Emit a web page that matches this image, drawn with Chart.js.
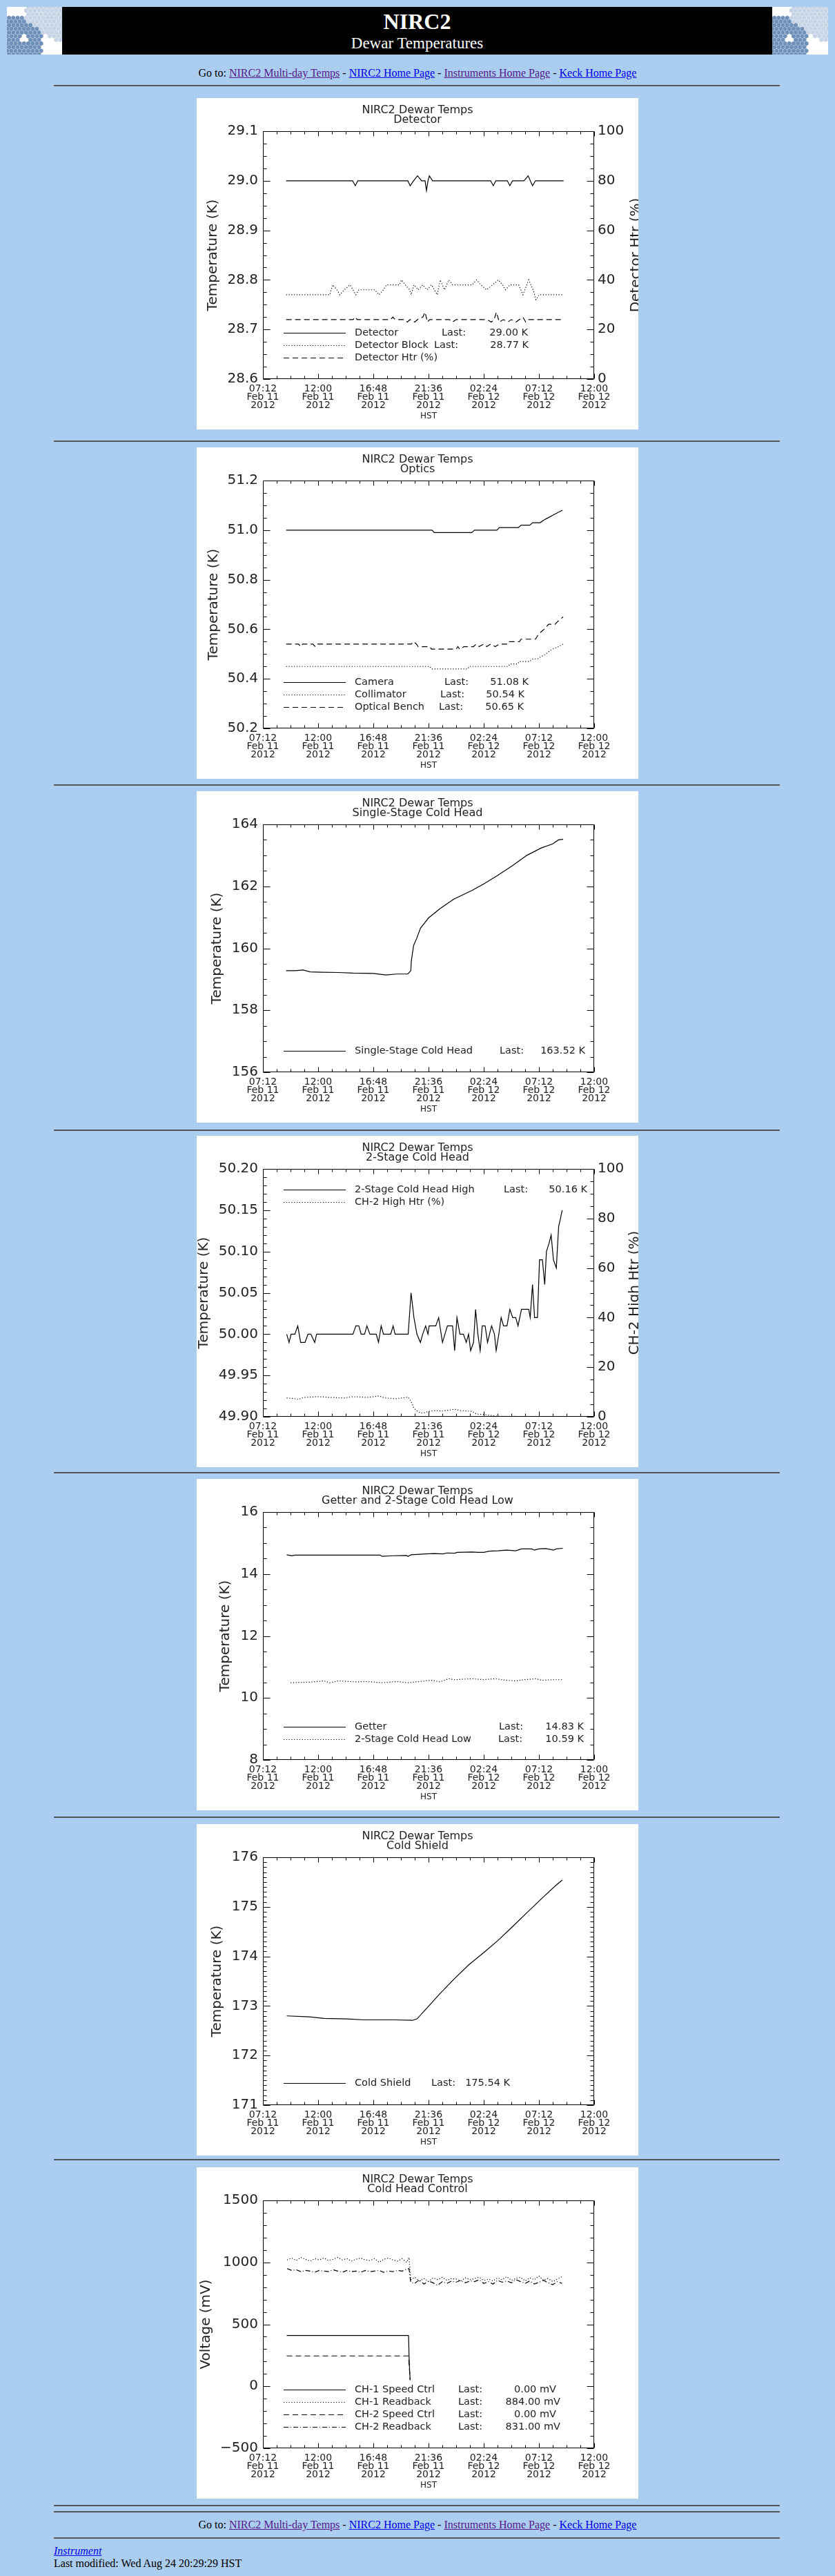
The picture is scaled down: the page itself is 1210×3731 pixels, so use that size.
<!DOCTYPE html>
<html>
<head>
<meta charset="utf-8">
<title>NIRC2 Dewar Temperatures</title>
<script src="https://cdn.jsdelivr.net/npm/chart.js@4.4.1/dist/chart.umd.min.js"></script>
<style>
  html, body { margin: 0; padding: 0; }
  body {
    background: #abcdef;
    width: 1210px;
    height: 3731px;
    position: relative;
    overflow: hidden;
    font-family: "Liberation Serif", "Times New Roman", serif;
    color: #000;
  }
  .abs { position: absolute; }
  .hr { position: absolute; left: 78px; width: 1052px; height: 2px; background: #555; }
  .goto { position: absolute; left: 0; width: 1210px; text-align: center; font-size: 16px; line-height: 18px; white-space: nowrap; }
  a { color: #0000ee; }
  a.seen { color: #551a8b; }
  .panel { position: absolute; left: 285px; width: 640px; height: 480px; background: #fff; }
  .panel canvas { display: block; }
</style>
</head>
<body>

<canvas id="logoL" class="abs" style="left:10px;top:10px" width="80" height="69"></canvas>
<div class="abs" style="left:90px;top:10px;width:1029px;height:69px;background:#000"></div>
<canvas id="logoR" class="abs" style="left:1119px;top:10px" width="81" height="69"></canvas>
<div class="abs" style="left:90px;top:15px;width:1029px;text-align:center;color:#fff;font-size:32px;line-height:32px;font-weight:bold">NIRC2</div>
<div class="abs" style="left:90px;top:51px;width:1029px;text-align:center;color:#fff;font-size:23px;line-height:23px">Dewar Temperatures</div>

<div class="goto" style="top:97px">Go to: <a class="seen" href="#">NIRC2 Multi-day Temps</a> - <a href="#">NIRC2 Home Page</a> - <a class="seen" href="#">Instruments Home Page</a> - <a href="#">Keck Home Page</a></div>
<div class="hr" style="top:123px"></div>

<div class="panel" style="top:142px"><canvas id="c1" width="640" height="480"></canvas></div>
<div class="hr" style="top:638px"></div>
<div class="panel" style="top:648px"><canvas id="c2" width="640" height="480"></canvas></div>
<div class="hr" style="top:1136px"></div>
<div class="panel" style="top:1146px"><canvas id="c3" width="640" height="480"></canvas></div>
<div class="hr" style="top:1636px"></div>
<div class="panel" style="top:1645px"><canvas id="c4" width="640" height="480"></canvas></div>
<div class="hr" style="top:2132px"></div>
<div class="panel" style="top:2142px"><canvas id="c5" width="640" height="480"></canvas></div>
<div class="hr" style="top:2631px"></div>
<div class="panel" style="top:2642px"><canvas id="c6" width="640" height="480"></canvas></div>
<div class="hr" style="top:3127px"></div>
<div class="panel" style="top:3139px"><canvas id="c7" width="640" height="480"></canvas></div>
<div class="hr" style="top:3628px"></div>
<div class="hr" style="top:3637px"></div>

<div class="goto" style="top:3648px">Go to: <a class="seen" href="#">NIRC2 Multi-day Temps</a> - <a href="#">NIRC2 Home Page</a> - <a class="seen" href="#">Instruments Home Page</a> - <a href="#">Keck Home Page</a></div>
<div class="hr" style="top:3675px"></div>
<div class="abs" style="left:78px;top:3686px;font-size:16px;line-height:18px"><a href="#"><i>Instrument</i></a></div>
<div class="abs" style="left:78px;top:3704px;font-size:16px;line-height:18px;white-space:nowrap">Last modified: Wed Aug 24 20:29:29 HST</div>

<script>
// time axis: hours after 07:12 Feb 11 2012 (HST)
const timeTickValues = [0, 4.8, 9.6, 14.4, 19.2, 24, 28.8];
const timeTickLabels = [
  ["07:12", "Feb 11", "2012"],
  ["12:00", "Feb 11", "2012"],
  ["16:48", "Feb 11", "2012"],
  ["21:36", "Feb 11", "2012"],
  ["02:24", "Feb 12", "2012"],
  ["07:12", "Feb 12", "2012"],
  ["12:00", "Feb 12", "2012"]
];

// --- Detector
const detTicks = [28.6, 28.7, 28.8, 28.9, 29.0, 29.1];
const detTickLabels = ["28.6", "28.7", "28.8", "28.9", "29.0", "29.1"];
const htrTicks = [0, 20, 40, 60, 80, 100];
const htrTickLabels = ["0", "20", "40", "60", "80", "100"];
const detT = [2.02, 7.8, 8.03, 8.25, 12.6, 12.8, 13.1, 13.44, 13.8, 14.1, 14.22, 14.35, 14.47, 14.75, 19.8, 20.03, 20.25, 21.25, 21.47, 21.7, 22.7, 23.06, 23.44, 23.7, 26.14];
const detV = [29.00, 29.00, 28.99, 29.00, 29.00, 28.99, 29.00, 29.01, 29.00, 29.00, 28.98, 29.00, 29.01, 29.00, 29.00, 28.99, 29.00, 29.00, 28.99, 29.00, 29.00, 29.01, 28.99, 29.00, 29.00];
const blkT = [2.02, 5.81, 6.06, 6.44, 6.69, 7.07, 7.58, 7.83, 8.08, 8.34, 9.72, 10.1, 10.48, 10.74, 11.87, 12.05, 12.38, 12.76, 12.88, 13.13, 13.51, 13.89, 14.27, 14.65, 15.16, 15.41, 15.79, 16.17, 16.5, 18.19, 18.57, 18.95, 19.45, 19.96, 20.46, 20.84, 21.09, 21.47, 22.23, 22.61, 23.11, 23.49, 23.74, 24.0, 26.14];
const blkV = [28.77, 28.77, 28.79, 28.78, 28.77, 28.78, 28.79, 28.78, 28.77, 28.78, 28.78, 28.77, 28.78, 28.79, 28.79, 28.80, 28.79, 28.78, 28.77, 28.79, 28.78, 28.79, 28.78, 28.79, 28.77, 28.80, 28.78, 28.80, 28.79, 28.79, 28.80, 28.79, 28.78, 28.79, 28.80, 28.79, 28.78, 28.79, 28.79, 28.77, 28.80, 28.78, 28.76, 28.77, 28.77];
const htrT = [2.02, 7.85, 8.03, 8.2, 11.1, 11.3, 11.5, 12.3, 12.55, 12.8, 13.2, 13.45, 13.9, 14.1, 14.3, 14.5, 16.2, 16.5, 16.8, 19.5, 19.85, 20.1, 20.3, 20.55, 20.9, 21.3, 21.6, 22.0, 22.3, 22.6, 22.85, 23.1, 26.14];
const htrV = [24, 24, 25, 24, 24, 25, 24, 24, 23, 24, 23, 24, 25, 27, 23, 24, 24, 23, 24, 24, 23, 24, 27, 23, 24, 23, 24, 23, 24, 25, 23, 24, 24];
const detLast = ["29.00 K", "28.77 K", null];

// --- Optics
const optTicks = [50.2, 50.4, 50.6, 50.8, 51.0, 51.2];
const optTickLabels = ["50.2", "50.4", "50.6", "50.8", "51.0", "51.2"];
const camT = [2.02, 14.7, 14.9, 18.15, 18.4, 20.35, 20.55, 22.2, 22.45, 23.2, 23.45, 24.1, 24.4, 24.8, 25.2, 25.6, 26.05];
const camV = [51.00, 51.00, 50.99, 50.99, 51.00, 51.00, 51.01, 51.01, 51.02, 51.02, 51.03, 51.03, 51.04, 51.05, 51.06, 51.07, 51.08];
const colT = [2.02, 14.5, 14.7, 17.8, 17.95, 21.3, 21.5, 22.15, 22.3, 23.2, 23.45, 23.85, 24.2, 24.6, 24.85, 25.2, 25.7, 26.1];
const colV = [50.45, 50.45, 50.44, 50.44, 50.45, 50.45, 50.46, 50.46, 50.47, 50.47, 50.48, 50.48, 50.49, 50.50, 50.51, 50.52, 50.53, 50.54];
const benchT = [2.02, 3.1, 3.28, 3.45, 4.35, 4.54, 4.75, 12.9, 13.1, 13.35, 13.5, 14.5, 14.65, 16.8, 16.95, 17.1, 17.5, 18.3, 18.55, 18.8, 19.2, 19.45, 19.8, 20.2, 20.55, 21.3, 21.4, 22.3, 22.45, 23.7, 23.96, 24.2, 24.46, 24.84, 25.4, 25.6, 26.1];
const benchV = [50.54, 50.54, 50.53, 50.54, 50.54, 50.53, 50.54, 50.54, 50.55, 50.54, 50.53, 50.53, 50.52, 50.52, 50.53, 50.52, 50.53, 50.53, 50.54, 50.53, 50.54, 50.53, 50.54, 50.53, 50.54, 50.54, 50.55, 50.55, 50.56, 50.56, 50.58, 50.59, 50.60, 50.62, 50.62, 50.63, 50.65];
const optLast = ["51.08 K", "50.54 K", "50.65 K"];

// --- Single-stage cold head
const ssTicks = [156, 158, 160, 162, 164];
const ssTickLabels = ["156", "158", "160", "162", "164"];
const ssT = [2.02, 2.8, 3.5, 4.1, 5.04, 6.56, 7.82, 9.58, 10.7, 11.6, 12.6, 12.86, 12.9, 13.1, 13.37, 13.7, 14.4, 15.4, 16.6, 18.2, 19.2, 20.4, 21.7, 22.95, 24.2, 25.2, 25.7, 26.1];
const ssV = [159.28, 159.28, 159.30, 159.24, 159.23, 159.22, 159.20, 159.19, 159.14, 159.17, 159.17, 159.28, 159.58, 160.09, 160.32, 160.65, 160.98, 161.28, 161.59, 161.87, 162.08, 162.35, 162.67, 163.00, 163.24, 163.37, 163.50, 163.52];
const ssLast = ["163.52 K"];

// --- 2-stage cold head
const ch2Ticks = [49.90, 49.95, 50.00, 50.05, 50.10, 50.15, 50.20];
const ch2TickLabels = ["49.90", "49.95", "50.00", "50.05", "50.10", "50.15", "50.20"];
const ch2T = [2.07, 2.27, 2.45, 2.78, 3.03, 3.28, 3.66, 3.92, 4.17, 4.5, 4.67, 7.83, 8.08, 8.34, 8.54, 8.84, 9.04, 9.3, 9.85, 10.05, 10.28, 10.48, 11.11, 11.32, 11.49, 12.63, 12.88, 13.13, 13.39, 13.69, 13.89, 14.15, 14.35, 14.45, 15.03, 15.28, 15.61, 16.04, 16.49, 16.67, 16.87, 17.13, 17.43, 17.68, 17.88, 18.06, 18.31, 18.49, 18.69, 18.89, 19.07, 19.32, 19.53, 19.88, 20.13, 20.28, 20.51, 20.71, 20.92, 21.22, 21.47, 21.72, 21.98, 22.18, 22.48, 23.11, 23.24, 23.44, 23.62, 23.87, 24.05, 24.3, 24.5, 24.65, 24.88, 25.06, 25.26, 25.51, 25.71, 25.87, 26.02];
const ch2V = [50.00, 49.99, 50.00, 50.00, 50.01, 49.99, 49.99, 50.00, 50.00, 49.99, 50.00, 50.00, 50.01, 50.01, 50.00, 50.00, 50.01, 50.00, 50.00, 49.99, 50.01, 50.00, 50.00, 50.01, 50.00, 50.00, 50.05, 50.02, 50.00, 49.99, 50.00, 50.01, 50.00, 50.01, 50.01, 50.02, 49.99, 50.01, 50.01, 49.98, 50.02, 50.00, 50.00, 49.99, 50.00, 49.98, 49.99, 50.03, 50.00, 49.98, 50.01, 50.01, 49.99, 50.01, 50.00, 49.98, 50.00, 50.02, 50.01, 50.01, 50.03, 50.02, 50.02, 50.01, 50.03, 50.03, 50.02, 50.06, 50.02, 50.02, 50.09, 50.09, 50.06, 50.10, 50.11, 50.12, 50.09, 50.08, 50.13, 50.14, 50.15];
const ch2HtrT = [2.07, 2.65, 3.08, 3.53, 4.8, 5.8, 7.07, 7.83, 9.1, 10.1, 10.6, 11.6, 12.63, 12.88, 13.13, 13.5, 13.9, 14.27, 14.9, 15.66, 16.67, 17.17, 18.18, 18.56, 19.2, 20.4, 26.1];
const ch2HtrV = [7.6, 7.4, 7.0, 7.8, 8.1, 7.8, 7.6, 8.1, 7.8, 8.4, 7.6, 7.3, 7.9, 6.2, 3.4, 2.0, 1.4, 2.0, 2.5, 2.3, 3.0, 2.5, 2.2, 1.1, 0.9, 0.2, 0];
const ch2Last = ["50.16 K", null];

// --- Getter and 2-stage cold head low
const getTicks = [8, 10, 12, 14, 16];
const getTickLabels = ["8", "10", "12", "14", "16"];
const getT = [2.07, 2.5, 2.8, 10.2, 10.35, 11.35, 12.5, 12.6, 12.88, 14.15, 14.9, 15.66, 16.0, 16.67, 16.9, 18.18, 18.7, 19.2, 19.7, 20.43, 21.2, 21.98, 22.48, 23.36, 23.6, 23.99, 24.6, 25.26, 25.5, 26.07];
const getV = [14.62, 14.59, 14.61, 14.61, 14.57, 14.59, 14.60, 14.57, 14.62, 14.65, 14.66, 14.65, 14.68, 14.67, 14.70, 14.71, 14.70, 14.70, 14.74, 14.75, 14.77, 14.75, 14.81, 14.81, 14.77, 14.81, 14.82, 14.77, 14.81, 14.83];
const lowT = [2.4, 4.04, 5.3, 5.8, 6.56, 8.08, 9.08, 10.34, 11.6, 12.6, 13.6, 14.65, 15.4, 16.15, 16.65, 18.18, 19.2, 20.2, 21.2, 21.98, 22.7, 23.74, 24.24, 25.26, 26.0];
const lowV = [10.49, 10.51, 10.55, 10.49, 10.55, 10.52, 10.53, 10.49, 10.53, 10.49, 10.53, 10.57, 10.52, 10.62, 10.59, 10.62, 10.59, 10.62, 10.57, 10.55, 10.59, 10.62, 10.57, 10.59, 10.59];
const getLast = ["14.83 K", "10.59 K"];

// --- Cold shield
const shTicks = [171, 172, 173, 174, 175, 176];
const shTickLabels = ["171", "172", "173", "174", "175", "176"];
const shT = [2.07, 4.04, 5.3, 7.3, 8.8, 11.35, 13.0, 13.4, 14.15, 15.4, 16.65, 17.9, 19.17, 20.43, 21.7, 22.95, 24.2, 25.5, 26.03];
const shV = [172.80, 172.78, 172.75, 172.74, 172.72, 172.72, 172.71, 172.74, 172.93, 173.25, 173.55, 173.83, 174.07, 174.32, 174.60, 174.88, 175.16, 175.44, 175.54];
const shLast = ["175.54 K"];

// --- Cold head control
const ctlTicks = [-500, 0, 500, 1000, 1500];
const ctlTickLabels = ["\u2212500", "0", "500", "1000", "1500"];
const spd1T = [2.07, 12.66, 12.72, 12.8];
const spd1V = [410, 410, 200, 50];
const spd2T = [2.07, 12.66, 12.8];
const spd2V = [245, 245, 50];
const rbT = [2.1, 2.5, 2.9, 3.3, 3.7, 4.1, 4.5, 4.9, 5.3, 5.7, 6.1, 6.5, 6.9, 7.3, 7.7, 8.1, 8.5, 8.9, 9.3, 9.7, 10.1, 10.5, 10.9, 11.3, 11.7, 12.1, 12.5, 12.7, 12.85, 13.2, 13.6, 14.0, 14.4, 14.8, 15.2, 15.6, 16.0, 16.4, 16.8, 17.2, 17.6, 18.0, 18.4, 18.8, 19.2, 19.6, 20.0, 20.4, 20.8, 21.2, 21.6, 22.0, 22.4, 22.8, 23.2, 23.6, 24.0, 24.4, 24.8, 25.2, 25.6, 26.0];
const rb1V = [1020, 1035, 1015, 1040, 1025, 1010, 1030, 1020, 1035, 1015, 1025, 1040, 1020, 1030, 1010, 1025, 1035, 1020, 1015, 1030, 1000, 1025, 1035, 1020, 1010, 1030, 1000, 1040, 860, 880, 850, 870, 845, 875, 860, 880, 855, 870, 865, 850, 875, 860, 870, 880, 855, 865, 850, 875, 860, 885, 855, 870, 880, 850, 875, 860, 890, 855, 870, 845, 865, 884];
const rb2V = [950, 935, 940, 925, 935, 930, 920, 935, 930, 925, 940, 930, 920, 935, 925, 930, 920, 935, 925, 930, 935, 920, 930, 925, 935, 930, 945, 950, 840, 830, 860, 825, 850, 835, 815, 845, 830, 850, 840, 855, 835, 850, 845, 860, 830, 845, 825, 855, 840, 850, 835, 860, 845, 830, 850, 825, 840, 855, 835, 820, 845, 831];
const ctlLast = ["0.00 mV", "884.00 mV", "0.00 mV", "831.00 mV"];

const DASH = { solid: [], dot: [1.2, 2.6], dash: [8, 5], dashdot: [7, 3, 1, 3] };
const INK = "#222";
const FONT = "'DejaVu Sans', sans-serif";

Chart.defaults.font.family = FONT;
Chart.defaults.color = INK;
Chart.defaults.animation = false;

// IDL style box: ticks on all four sides, legend inside, right title
const idlFrame = {
  id: "idlFrame",
  afterDraw(chart, args, o) {
    const { ctx, chartArea: a, scales } = chart;
    const L = Math.round(a.left) + 0.5, R = Math.round(a.right) - 0.5;
    const T = Math.round(a.top) + 0.5, B = Math.round(a.bottom) - 0.5;
    ctx.save();
    ctx.strokeStyle = "#000";
    ctx.lineWidth = 1;
    ctx.setLineDash([]);
    ctx.beginPath();
    ctx.rect(L, T, R - L, B - T);

    const tickRun = (vals, minor, fn) => {
      for (let k = 0; k < vals.length; k++) {
        fn(vals[k], true);
        if (k < vals.length - 1) {
          for (let m = 1; m < minor; m++) fn(vals[k] + (vals[k + 1] - vals[k]) * m / minor, false);
        }
      }
    };
    tickRun(timeTickValues, 4, (v, major) => {
      const px = Math.round(scales.x.getPixelForValue(v)) + 0.5;
      const len = major ? 7 : 4;
      ctx.moveTo(px, B); ctx.lineTo(px, B - len);
      ctx.moveTo(px, T); ctx.lineTo(px, T + len);
    });
    tickRun(o.yTicks, o.yMinor, (v, major) => {
      const py = Math.round(scales.y.getPixelForValue(v)) + 0.5;
      ctx.moveTo(L, py); ctx.lineTo(L + (major ? 10 : 5), py);
      if (!o.y2Ticks) { ctx.moveTo(R, py); ctx.lineTo(R - (major ? 10 : 5), py); }
    });
    if (o.y2Ticks) {
      tickRun(o.y2Ticks, o.y2Minor, (v, major) => {
        const py = Math.round(scales.y2.getPixelForValue(v)) + 0.5;
        ctx.moveTo(R, py); ctx.lineTo(R - (major ? 10 : 5), py);
      });
    }
    ctx.stroke();

    // legend: sample line, name, "Last:" and the right-aligned last value
    ctx.font = "14.5px " + FONT;
    ctx.fillStyle = INK;
    ctx.textBaseline = "middle";
    o.rows.forEach((r, i) => {
      const ds = chart.data.datasets[i];
      ctx.setLineDash(ds.borderDash);
      ctx.lineWidth = ds.borderWidth;
      ctx.beginPath();
      ctx.moveTo(o.x1, r.y + 0.5);
      ctx.lineTo(o.x2, r.y + 0.5);
      ctx.stroke();
      ctx.textAlign = "left";
      ctx.fillText(ds.label, o.tx, r.y);
      if (o.last[i]) {
        ctx.fillText("Last:", r.lx, r.y);
        ctx.textAlign = "right";
        ctx.fillText(o.last[i], r.vx, r.y);
      }
    });

    if (o.rightTitle) {
      ctx.translate(o.rightTitleX, (a.top + a.bottom) / 2);
      ctx.rotate(-Math.PI / 2);
      ctx.textAlign = "center";
      ctx.font = "20px " + FONT;
      ctx.fillText(o.rightTitle, 0, 0);
    }
    ctx.restore();
  }
};

function valueAxis(position, min, max, ticks, labels, showLabels, width) {
  return {
    type: "linear",
    position: position,
    min: min,
    max: max,
    afterBuildTicks: (s) => { s.ticks = ticks.map((v) => ({ value: v })); },
    afterFit: (s) => { s.width = width; },
    grid: { display: false, drawTicks: false },
    border: { display: false },
    ticks: {
      display: showLabels,
      padding: position === "left" ? 7 : 5,
      font: { size: 20 },
      color: INK,
      callback: (v, i) => labels[i]
    }
  };
}

function idlChart(id, spec) {
  const datasets = spec.series.map((s) => ({
    label: s.label,
    data: s.t.map((t, i) => ({ x: t, y: s.v[i] })),
    yAxisID: s.axis || "y",
    borderColor: "#000",
    borderWidth: 1.2,
    borderDash: DASH[s.style],
    borderCapStyle: "butt",
    pointRadius: 0,
    tension: 0,
    fill: false
  }));

  const yLeft = valueAxis("left", spec.yMin, spec.yMax, spec.yTicks, spec.yLabels, true, 96);
  yLeft.title = {
    display: true,
    text: spec.yTitle,
    color: INK,
    font: { size: 20, lineHeight: "20px" },
    padding: { top: spec.yTitleX - 10, bottom: 0 }
  };
  const y2 = spec.y2
    ? valueAxis("right", spec.y2.min, spec.y2.max, spec.y2.ticks, spec.y2.labels, true, 64)
    : valueAxis("right", spec.yMin, spec.yMax, spec.yTicks, spec.yLabels, false, 64);

  return new Chart(document.getElementById(id), {
    type: "line",
    data: { datasets: datasets },
    options: {
      responsive: false,
      maintainAspectRatio: false,
      layout: { padding: 0 },
      scales: {
        x: {
          type: "linear",
          position: "bottom",
          min: 0,
          max: 28.8,
          afterBuildTicks: (s) => { s.ticks = timeTickValues.map((v) => ({ value: v })); },
          afterFit: (s) => { s.height = 73; },
          grid: { display: false, drawTicks: false },
          border: { display: false },
          ticks: {
            autoSkip: false,
            maxRotation: 0,
            padding: 9,
            color: INK,
            font: { size: 14, lineHeight: "11.7px" },
            callback: (v, i) => timeTickLabels[i]
          },
          title: {
            display: true,
            text: "HST",
            color: INK,
            font: { size: 12, lineHeight: "14px" },
            padding: { top: 0, bottom: 12 }
          }
        },
        y: yLeft,
        y2: y2
      },
      plugins: {
        legend: { display: false },
        tooltip: { enabled: false },
        title: {
          display: true,
          text: ["NIRC2 Dewar Temps", spec.subtitle],
          color: INK,
          font: { size: 16, weight: "normal", lineHeight: "14px" },
          padding: { top: 11, bottom: 9 }
        },
        idlFrame: {
          yTicks: spec.yTicks,
          yMinor: spec.yMinor,
          y2Ticks: spec.y2 ? spec.y2.ticks : null,
          y2Minor: spec.y2 ? spec.y2.minor : 0,
          x1: 126, x2: 216, tx: 229,
          rows: spec.legendRows,
          last: spec.last,
          rightTitle: spec.y2 ? spec.y2.title : null,
          rightTitleX: spec.y2 ? spec.y2.titleX : 0
        }
      }
    },
    plugins: [idlFrame]
  });
}

idlChart("c1", {
  subtitle: "Detector",
  yTitle: "Temperature (K)", yTitleX: 24,
  yMin: 28.6, yMax: 29.1, yTicks: detTicks, yLabels: detTickLabels, yMinor: 4,
  y2: { min: 0, max: 100, ticks: htrTicks, labels: htrTickLabels, minor: 4, title: "Detector Htr (%)", titleX: 637 },
  series: [
    { label: "Detector", t: detT, v: detV, style: "solid" },
    { label: "Detector Block", t: blkT, v: blkV, style: "dot" },
    { label: "Detector Htr (%)", t: htrT, v: htrV, style: "dash", axis: "y2" }
  ],
  last: detLast,
  legendRows: [{ y: 340, lx: 355, vx: 480 }, { y: 358, lx: 344, vx: 481 }, { y: 376 }]
});

idlChart("c2", {
  subtitle: "Optics",
  yTitle: "Temperature (K)", yTitleX: 24.5,
  yMin: 50.2, yMax: 51.2, yTicks: optTicks, yLabels: optTickLabels, yMinor: 4,
  series: [
    { label: "Camera", t: camT, v: camV, style: "solid" },
    { label: "Collimator", t: colT, v: colV, style: "dot" },
    { label: "Optical Bench", t: benchT, v: benchV, style: "dash" }
  ],
  last: optLast,
  legendRows: [{ y: 340, lx: 359, vx: 481 }, { y: 358, lx: 353, vx: 475 }, { y: 376, lx: 351, vx: 474 }]
});

idlChart("c3", {
  subtitle: "Single-Stage Cold Head",
  yTitle: "Temperature (K)", yTitleX: 29.7,
  yMin: 156, yMax: 164, yTicks: ssTicks, yLabels: ssTickLabels, yMinor: 4,
  series: [
    { label: "Single-Stage Cold Head", t: ssT, v: ssV, style: "solid" }
  ],
  last: ssLast,
  legendRows: [{ y: 376, lx: 439, vx: 563 }]
});

idlChart("c4", {
  subtitle: "2-Stage Cold Head",
  yTitle: "Temperature (K)", yTitleX: 11,
  yMin: 49.9, yMax: 50.2, yTicks: ch2Ticks, yLabels: ch2TickLabels, yMinor: 5,
  y2: { min: 0, max: 100, ticks: htrTicks, labels: htrTickLabels, minor: 4, title: "CH-2 High Htr (%)", titleX: 635 },
  series: [
    { label: "2-Stage Cold Head High", t: ch2T, v: ch2V, style: "solid" },
    { label: "CH-2 High Htr (%)", t: ch2HtrT, v: ch2HtrV, style: "dot", axis: "y2" }
  ],
  last: ch2Last,
  legendRows: [{ y: 78, lx: 445, vx: 566 }, { y: 96 }]
});

idlChart("c5", {
  subtitle: "Getter and 2-Stage Cold Head Low",
  yTitle: "Temperature (K)", yTitleX: 42,
  yMin: 8, yMax: 16, yTicks: getTicks, yLabels: getTickLabels, yMinor: 4,
  series: [
    { label: "Getter", t: getT, v: getV, style: "solid" },
    { label: "2-Stage Cold Head Low", t: lowT, v: lowV, style: "dot" }
  ],
  last: getLast,
  legendRows: [{ y: 359, lx: 438, vx: 561 }, { y: 377, lx: 437, vx: 561 }]
});

idlChart("c6", {
  subtitle: "Cold Shield",
  yTitle: "Temperature (K)", yTitleX: 29.7,
  yMin: 171, yMax: 176, yTicks: shTicks, yLabels: shTickLabels, yMinor: 10,
  series: [
    { label: "Cold Shield", t: shT, v: shV, style: "solid" }
  ],
  last: shLast,
  legendRows: [{ y: 375, lx: 340, vx: 454 }]
});

idlChart("c7", {
  subtitle: "Cold Head Control",
  yTitle: "Voltage (mV)", yTitleX: 14,
  yMin: -500, yMax: 1500, yTicks: ctlTicks, yLabels: ctlTickLabels, yMinor: 5,
  series: [
    { label: "CH-1 Speed Ctrl", t: spd1T, v: spd1V, style: "solid" },
    { label: "CH-1 Readback", t: rbT, v: rb1V, style: "dot" },
    { label: "CH-2 Speed Ctrl", t: spd2T, v: spd2V, style: "dash" },
    { label: "CH-2 Readback", t: rbT, v: rb2V, style: "dashdot" }
  ],
  last: ctlLast,
  legendRows: [{ y: 322, lx: 379, vx: 521 }, { y: 340, lx: 379, vx: 527 }, { y: 358, lx: 379, vx: 521 }, { y: 376, lx: 379, vx: 527 }]
});

// small segmented-mirror logos beside the banner
function drawLogo(id) {
  const cv = document.getElementById(id);
  const c = cv.getContext("2d");
  c.fillStyle = "#fff";
  c.fillRect(0, 0, cv.width, cv.height);
  const r = 3.4, w = 6.2, h = 5.3;
  for (let row = -1; row < 15; row++) {
    for (let col = -1; col < 15; col++) {
      const cx = col * w + (row % 2 ? w / 2 : 0);
      const cy = row * h;
      const d = cx * 0.75 - cy;
      let fill = null;
      if (d > 2 && cx > 26 && cy < 52) fill = "#c6d4e6";
      else if (d <= 2 && cx < 50 && cy > 14 && !(Math.abs(cx - 25) < 5 && Math.abs(cy - 46) < 5)) fill = "#6e90b9";
      if (!fill) continue;
      c.fillStyle = fill;
      c.beginPath();
      for (let k = 0; k < 6; k++) {
        const ang = Math.PI / 6 + k * Math.PI / 3;
        const px = cx + r * Math.cos(ang), py = cy + r * Math.sin(ang);
        if (k === 0) c.moveTo(px, py); else c.lineTo(px, py);
      }
      c.closePath();
      c.fill();
    }
  }
}
drawLogo("logoL");
drawLogo("logoR");
</script>
</body>
</html>
